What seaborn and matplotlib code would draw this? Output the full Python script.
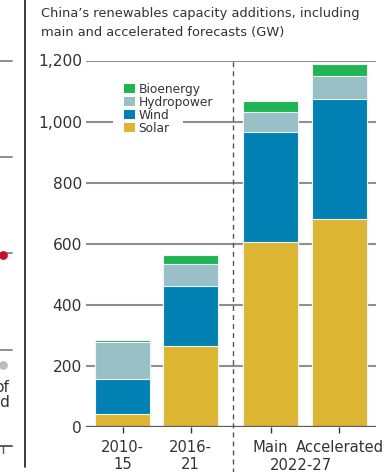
import matplotlib
matplotlib.use("Agg")
import matplotlib.pyplot as plt
from matplotlib.patches import Patch, Rectangle
from matplotlib.lines import Line2D
from matplotlib.transforms import blended_transform_factory
import pandas as pd
import seaborn as sns

# ---- data (GW) ----
periods = ["2010-\n15", "2016-\n21", "Main", "Accelerated"]
positions = [0.0, 1.0, 2.17, 3.18]
solar = [42, 264, 605, 681]
wind = [113, 198, 362, 392]
hydro = [123, 71, 65, 76]
bio = [6, 29, 34, 38]
y_ticks = [0, 200, 400, 600, 800, 1000, 1200]
y_ticklabels = ["0", "200", "400", "600", "800", "1,000", "1,200"]
forecast_group = "2022-27"
series_names = ["Bioenergy", "Hydropower", "Wind", "Solar"]

COLORS = {
    "Solar": "#dcb632",
    "Wind": "#0181b3",
    "Hydropower": "#98c0c6",
    "Bioenergy": "#1fb553",
}
TEXT = "#333333"
GRID = "#8e8e8e"

sns.set_theme(style="white")
plt.rcParams["font.family"] = ["DejaVu Sans"]

df = pd.DataFrame({"pos": positions, "Solar": solar, "Wind": wind,
                   "Hydropower": hydro, "Bioenergy": bio})
df["top_solar"] = df["Solar"]
df["top_wind"] = df["top_solar"] + df["Wind"]
df["top_hydro"] = df["top_wind"] + df["Hydropower"]
df["top_bio"] = df["top_hydro"] + df["Bioenergy"]

W, H = 384, 472
fig = plt.figure(figsize=(W / 100, H / 100), dpi=100)

# main axes
ax_l, ax_r = 86, 376
ax_top, ax_bot = 60.5, 426.6
ax = fig.add_axes([ax_l / W, 1 - ax_bot / H, (ax_r - ax_l) / W, (ax_bot - ax_top) / H])

# stacked bars: draw cumulative tops from the highest layer down
for col, name in [("top_bio", "Bioenergy"), ("top_hydro", "Hydropower"),
                  ("top_wind", "Wind"), ("top_solar", "Solar")]:
    sns.barplot(data=df, x="pos", y=col, native_scale=True, width=0.8,
                color=COLORS[name], saturation=1, errorbar=None,
                edgecolor="#eef3f3", linewidth=0.8, ax=ax, zorder=2)

ax.set_xlim(-0.535, 3.715)
ax.set_ylim(0, 1200)
ax.set_yticks(y_ticks)
ax.set_yticklabels(y_ticklabels)
ax.set_xticks(positions)
ax.set_xticklabels(periods)
ax.set_xlabel("")
ax.set_ylabel("")
for s in ax.spines.values():
    s.set_visible(False)
ax.set_axisbelow(True)
ax.yaxis.grid(True, color=GRID, linewidth=1.5)
ax.xaxis.grid(False)
ax.tick_params(axis="y", length=0, pad=2.9, labelsize=11.2, labelcolor=TEXT)
ax.tick_params(axis="x", length=4.3, width=1.0, color=TEXT, pad=5.5,
               labelsize=10.6, labelcolor=TEXT, bottom=True)
for lab in ax.get_xticklabels():
    lab.set_linespacing(1.15)

# baseline
ax.axhline(0, color="#5a5a5a", linewidth=1.6, zorder=4)

# separator between history and forecasts
ax.axvline(1.615, ymin=-0.13, ymax=1.0, clip_on=False, color="#555555",
           linewidth=1.0, linestyle=(0, (3.6, 2.9)), zorder=4)

# forecast group label
tr = blended_transform_factory(ax.transData, ax.transAxes)
ax.text((positions[2] + positions[3]) / 2 - 0.06, (ax_bot - 470.5) / (ax_bot - ax_top),
        forecast_group, transform=tr, ha="center", va="baseline",
        fontsize=10.6, color=TEXT)

# legend on a white panel
ax.add_patch(Rectangle(((113 - ax_l) / (ax_r - ax_l), (ax_bot - 137) / (ax_bot - ax_top)),
                       70 / (ax_r - ax_l), 57 / (ax_bot - ax_top),
                       transform=ax.transAxes, facecolor="white",
                       edgecolor="none", zorder=1.5))
handles = [Patch(facecolor=COLORS[n], edgecolor="none") for n in series_names]
leg = ax.legend(handles, series_names, loc="upper left",
                bbox_to_anchor=((124 - ax_l) / (ax_r - ax_l), (ax_bot - 83) / (ax_bot - ax_top)),
                frameon=False, fontsize=8.8, handlelength=0.9, handleheight=0.72,
                handletextpad=0.3, labelspacing=0.0, borderpad=0, borderaxespad=0)
for t in leg.get_texts():
    t.set_color(TEXT)

# title
fig.text(41 / W, 1 - 7 / H,
         "China\u2019s renewables capacity additions, including\nmain and accelerated forecasts (GW)",
         ha="left", va="top", fontsize=9.4, color=TEXT, linespacing=1.6)

# edge of the neighbouring panel
fig.add_artist(Line2D([25 / W, 25 / W], [1, 1 - 467 / H], color="#1a1a1a",
                      linewidth=1.2, transform=fig.transFigure))
side = fig.add_axes([0, 1 - 446 / H, 12 / W, (446 - 60.7) / H])
side.set_xlim(0, 12)
side.set_ylim(0, 4)
side.axis("off")
for lvl in [1, 2, 3, 4]:
    side.plot([0, 12], [lvl, lvl], color=GRID, linewidth=1.4, clip_on=False)
side.plot([0, 12], [0, 0], color="#5a5a5a", linewidth=1.4, clip_on=False)
side.plot([3, 3], [0, -0.075], color="#5a5a5a", linewidth=1.0, clip_on=False)
side.scatter([2.5], [1.98], s=40, color="#c0102a", clip_on=False, zorder=3, linewidths=0)
side.scatter([2.5], [0.84], s=40, color="#bdbdbd", clip_on=False, zorder=3, linewidths=0)
side.text(9.5, 0.56, "of", ha="right", va="baseline", fontsize=11.2, color=TEXT)
side.text(8.5, 0.40, "d", ha="right", va="baseline", fontsize=11.2, color=TEXT)

fig.savefig("out.png", dpi=100)
